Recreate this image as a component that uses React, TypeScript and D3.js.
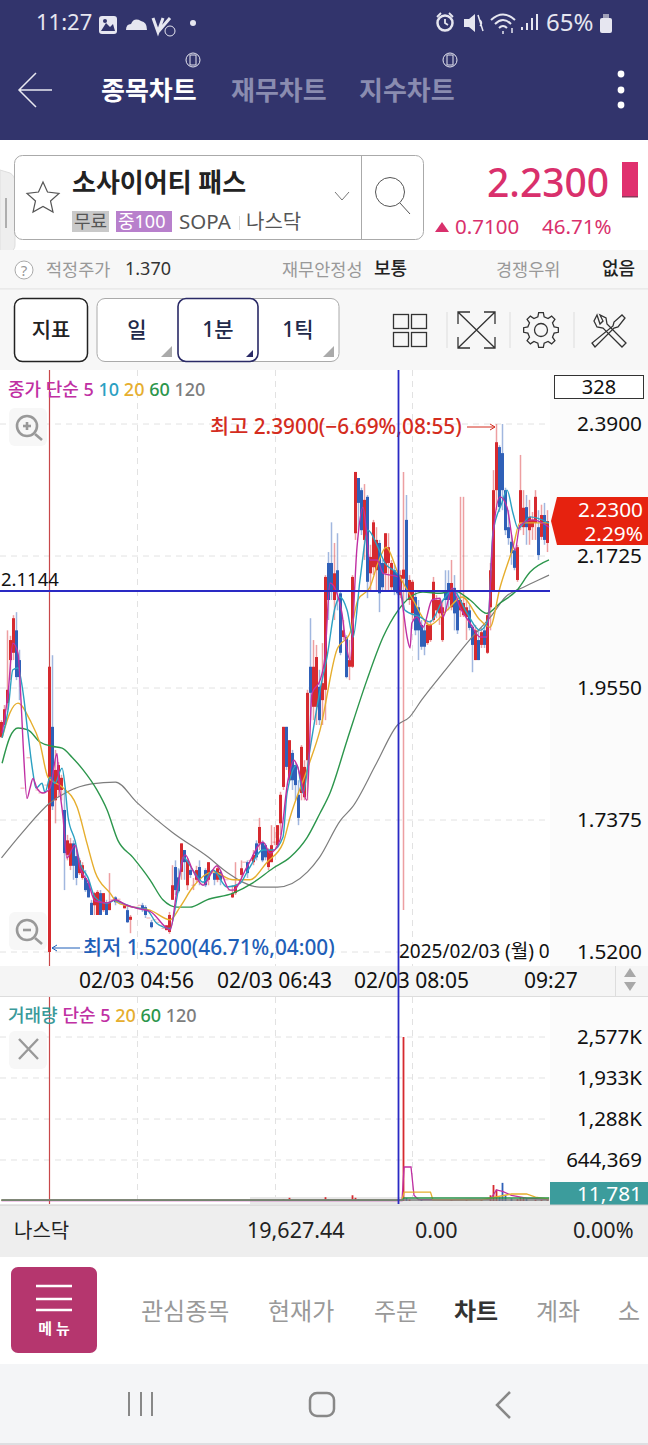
import React from "react";
import * as d3 from "d3";

const candleOpen: (number | null)[] = [
  1.874,1.894,1.930,2.001,2.013,2.050,2.001,1.790,null,1.840,
  null,null,1.787,1.782,1.782,1.795,1.520,1.891,1.770,1.787,
  1.787,1.754,1.680,1.662,1.699,1.678,1.650,1.642,1.642,1.634,
  1.601,1.597,1.581,1.617,1.589,1.601,1.589,1.606,1.610,1.607,
  1.599,1.592,1.589,1.573,1.594,1.594,1.597,1.597,1.594,1.576,
  1.569,1.573,1.569,1.564,1.559,1.556,1.553,1.606,1.660,1.643,
  1.652,1.688,1.630,1.655,1.630,1.639,1.660,1.632,1.655,1.639,
  1.650,1.650,1.639,1.652,1.642,1.639,1.622,1.610,1.617,1.639,
  1.647,1.668,1.668,1.671,1.668,1.699,1.699,1.701,1.696,1.660,
  1.668,1.701,1.696,1.732,1.792,1.891,1.803,1.848,1.828,1.779,
  1.782,1.775,1.836,1.990,1.924,1.924,1.957,1.935,1.952,2.161,
  2.161,2.100,2.149,2.111,2.039,2.039,1.990,1.990,2.210,2.301,
  2.281,2.199,2.270,2.144,2.154,2.149,2.194,2.161,2.144,2.161,
  2.121,2.149,2.144,2.108,2.135,2.232,2.100,2.078,2.105,2.088,
  2.059,2.050,2.029,2.034,2.067,2.083,2.078,2.034,2.116,2.128,
  2.088,2.120,2.100,2.083,2.075,2.072,2.083,2.056,2.001,2.034,
  2.026,2.050,2.013,2.088,2.116,2.281,2.352,2.342,2.281,2.220,
  2.196,2.182,2.133,2.227,2.220,2.253,2.215,2.220,2.227,2.220,
  2.204,2.240,2.194,
];
const candleClose: (number | null)[] = [
  1.899,1.920,1.952,2.034,2.070,1.973,1.973,1.790,null,1.840,
  null,null,1.787,1.782,1.782,1.795,1.990,1.760,1.820,1.828,
  1.807,1.683,1.704,1.699,1.662,1.642,1.671,1.663,1.622,1.610,
  1.581,1.617,1.619,1.581,1.617,1.581,1.602,1.606,1.602,1.607,
  1.599,1.597,1.569,1.578,1.594,1.594,1.597,1.589,1.581,1.576,
  1.561,1.573,1.569,1.564,1.559,1.564,1.581,1.630,1.622,1.620,
  1.699,1.668,1.671,1.647,1.630,1.655,1.639,1.632,1.630,1.668,
  1.650,1.639,1.658,1.639,1.642,1.639,1.622,1.617,1.630,1.639,
  1.658,1.668,1.650,1.671,1.680,1.676,1.726,1.671,1.676,1.688,
  1.696,1.701,1.729,1.779,1.891,1.825,1.869,1.803,1.795,1.741,
  1.858,1.825,1.947,1.947,1.990,2.006,1.902,1.963,2.138,2.100,
  2.116,2.144,2.116,2.013,2.050,1.973,2.001,2.138,2.311,2.260,
  2.215,2.265,2.130,2.171,2.228,2.199,2.111,2.121,2.210,2.187,
  2.161,2.116,2.111,2.141,2.150,2.116,2.133,2.130,2.050,2.050,
  2.023,2.023,2.059,2.059,2.130,2.100,2.100,2.088,2.100,2.100,
  2.128,2.078,2.050,2.100,2.095,2.088,2.054,2.026,2.050,2.001,
  2.047,2.026,2.075,2.149,2.281,2.360,2.253,2.281,2.215,2.202,
  2.177,2.153,2.187,2.281,2.252,2.220,2.237,2.232,2.270,2.174,
  2.240,2.199,2.230,
];
const candleHigh: (number | null)[] = [
  1.902,1.927,2.050,2.041,2.075,2.080,2.018,1.790,null,1.840,
  null,null,1.787,1.782,1.782,1.795,1.990,2.009,1.853,1.833,
  1.812,1.787,1.713,1.708,1.704,1.688,1.675,1.668,1.655,1.639,
  1.606,1.619,1.622,1.622,1.617,1.606,1.650,1.606,1.612,1.607,
  1.599,1.597,1.597,1.581,1.594,1.594,1.597,1.601,1.597,1.576,
  1.573,1.573,1.569,1.564,1.559,1.564,1.586,1.663,1.671,1.658,
  1.699,1.688,1.675,1.658,1.642,1.662,1.671,1.632,1.658,1.668,
  1.650,1.655,1.663,1.655,1.642,1.639,1.622,1.630,1.668,1.639,
  1.671,1.668,1.671,1.671,1.688,1.704,1.741,1.704,1.699,1.691,
  1.729,1.726,1.729,1.784,1.891,1.891,1.869,1.853,1.831,1.803,
  1.861,1.836,1.952,2.070,2.034,2.026,1.985,2.029,2.141,2.179,
  2.228,2.194,2.210,2.116,2.067,2.042,2.034,2.141,2.311,2.301,
  2.285,2.291,2.273,2.191,2.232,2.220,2.199,2.166,2.210,2.210,
  2.166,2.158,2.149,2.149,2.311,2.273,2.141,2.133,2.116,2.100,
  2.067,2.059,2.064,2.067,2.138,2.108,2.103,2.100,2.149,2.149,
  2.166,2.141,2.116,2.270,2.270,2.100,2.092,2.059,2.059,2.050,
  2.054,2.059,2.080,2.161,2.314,2.390,2.355,2.390,2.285,2.248,
  2.207,2.186,2.191,2.339,2.281,2.273,2.265,2.245,2.281,2.248,
  2.257,2.260,2.248,
];
const candleLow: (number | null)[] = [
  1.873,1.894,1.919,1.968,2.001,1.968,1.935,1.790,null,1.840,
  null,null,1.787,1.782,1.782,1.795,1.520,1.754,1.732,1.775,
  1.770,1.622,1.671,1.655,1.639,1.630,1.647,1.639,1.619,1.610,
  1.581,1.581,1.581,1.581,1.586,1.581,1.589,1.606,1.597,1.607,
  1.599,1.592,1.568,1.551,1.594,1.594,1.597,1.586,1.576,1.576,
  1.559,1.573,1.569,1.564,1.559,1.556,1.550,1.606,1.614,1.617,
  1.639,1.639,1.622,1.642,1.622,1.635,1.630,1.632,1.627,1.630,
  1.650,1.630,1.635,1.630,1.642,1.639,1.622,1.609,1.614,1.639,
  1.643,1.668,1.642,1.671,1.663,1.671,1.688,1.668,1.671,1.655,
  1.668,1.696,1.691,1.713,1.787,1.820,1.803,1.787,1.770,1.729,
  1.770,1.770,1.770,1.902,1.902,1.894,1.894,1.894,1.902,2.067,
  2.100,2.067,2.083,2.009,2.034,1.971,1.968,1.988,2.199,2.215,
  2.207,2.166,2.103,2.116,2.141,2.116,2.080,2.116,2.116,2.116,
  2.116,2.108,2.108,2.103,1.589,2.100,2.092,2.067,2.042,2.001,
  2.018,2.009,2.026,2.031,2.064,2.070,2.059,2.031,2.080,2.083,
  2.083,2.050,2.044,2.072,2.072,2.034,2.050,1.981,2.001,2.001,
  2.021,2.021,2.011,2.050,2.116,2.248,2.245,2.248,2.207,2.191,
  2.158,2.149,2.130,2.215,2.207,2.191,2.191,2.199,2.199,2.166,
  2.199,2.191,2.179,
];

const ma5Slots = [0.2,2.2,3.8,5.5,6.5,7.2,8.5,9.5,10.5,11.8,13.8,16.2,18.5,19,20.5,21.8,24.5,26.2,28.8,31.2,35.2,37.8,41.8,45.2,49.5,55.2,56.2,58.5,61.2,63.8,67.2,71.8,76.2,77.2,81.8,87.2,89.5,92.8,95.5,97.5,98.5,101.8,103.5,106.2,107.8,109.5,111.8,113.5,114.5,116.2,118.5,120.5,122.8,125.2,127.2,132.2,133.8,135.2,136.2,136.8,138.5,140.5,143.5,146.2,147.2,150.2,152.8,156.2,159.5,161.8,163.8,166.2,168.5,171.2,172.8,177.2,182.5];
const ma5Values = [1.881,1.947,2.029,2.012,1.935,1.863,1.773,1.790,1.806,1.790,1.782,1.790,1.847,1.809,1.743,1.675,1.696,1.658,1.636,1.604,1.601,1.606,1.597,1.592,1.587,1.559,1.556,1.622,1.680,1.654,1.630,1.662,1.622,1.622,1.660,1.701,1.683,1.704,1.803,1.836,1.828,1.770,1.946,1.968,2.006,2.128,2.111,2.078,2.039,2.001,2.187,2.253,2.166,2.166,2.144,2.138,2.088,2.039,2.021,2.062,2.072,2.055,2.100,2.103,2.072,2.120,2.088,2.062,2.039,2.039,2.204,2.270,2.253,2.182,2.223,2.232,2.220];
const ma10Slots = [0.2,2.2,3.8,5.5,7.2,8.8,10.5,11.5,13.5,14.5,16.2,17.8,20.2,21.2,22.2,24.5,26.2,28.8,31.2,35.2,37.8,39.5,43.8,48.5,51.8,56.2,58.5,60.5,63.8,67.2,70.5,75.2,79.5,82.2,87.2,90.5,93.8,95.2,98.5,100.5,102.8,106.2,108.5,111.2,112.8,115.2,117.2,119.5,122.2,125.2,127.8,132.2,134.5,139.5,142.8,147.2,150.5,155.2,159.5,162.2,163.8,166.8,168.5,170.5,172.2,176.2,182.5];
const ma10Values = [1.873,1.919,1.985,1.988,1.947,1.881,1.815,1.790,1.798,1.783,1.808,1.798,1.823,1.792,1.742,1.704,1.666,1.643,1.610,1.600,1.605,1.602,1.594,1.589,1.567,1.559,1.610,1.676,1.655,1.635,1.655,1.627,1.633,1.655,1.688,1.688,1.709,1.782,1.828,1.782,1.853,1.952,2.006,2.088,2.105,2.083,2.039,2.133,2.215,2.190,2.161,2.141,2.083,2.072,2.064,2.100,2.116,2.078,2.050,2.067,2.210,2.260,2.281,2.243,2.218,2.237,2.227];
const ma20Slots = [0.2,2.8,5.5,9.5,12.8,15.5,20.2,25.2,28.5,31.2,36.2,38.5,43.8,49.5,56.2,59.5,63.8,70.5,77.2,82.8,88.5,93.8,96.2,102.2,106.2,111.8,116.2,118.8,122.8,125.5,128.2,132.2,137.2,142.8,148.5,153.5,159.5,162.8,166.2,170.5,172.8,182.5];
const ma20Values = [1.873,1.914,1.930,1.902,1.864,1.808,1.792,1.759,1.699,1.652,1.617,1.602,1.594,1.589,1.573,1.594,1.627,1.652,1.639,1.639,1.668,1.699,1.742,1.825,1.886,2.018,2.046,2.100,2.121,2.161,2.187,2.144,2.100,2.059,2.083,2.105,2.067,2.055,2.121,2.187,2.227,2.227];
const ma60Slots = [0.2,2.8,5.5,8.8,12.8,16.8,20.2,23.5,27.2,31.8,35.2,38.8,43.8,49.5,53.8,58.5,62.8,68.5,77.2,83.8,90.5,96.2,101.8,106.2,109.5,115.2,121.8,127.2,132.2,140.5,146.2,150.5,156.2,161.8,166.2,171.8,176.2,182.5];
const ma60Values = [1.831,1.874,1.889,1.886,1.866,1.859,1.856,1.841,1.820,1.787,1.754,1.704,1.676,1.639,1.606,1.594,1.594,1.606,1.617,1.634,1.658,1.676,1.708,1.749,1.782,1.869,1.968,2.039,2.083,2.113,2.111,2.116,2.100,2.078,2.095,2.116,2.146,2.166];
const ma120Slots = [0,7,16,22,30,38,45,57,69,75,86,92,102,106,113,117,125,132,136,140,148,156,163,168,174,179,182.5];
const ma120Values = [1.675,1.717,1.765,1.784,1.797,1.800,1.767,1.717,1.676,1.652,1.627,1.627,1.652,1.676,1.737,1.759,1.831,1.894,1.907,1.935,1.985,2.034,2.072,2.105,2.121,2.133,2.141];

const volumeSlots = [3,5,16,27,36,45,60,70,85,94,96,100,108,109,117,118,119,128,134,135,136,140,150,155,160,163,164,165,166,167,168,170,172,173,174,175,178,180,182];
const volumeValues = [9000,12000,14000,8000,9000,7000,10000,8000,12000,30000,50000,15000,60000,30000,90000,50000,30000,14000,2577000,45000,25000,30000,20000,22000,25000,90000,251000,180000,60000,285000,90000,40000,30000,60000,50000,45000,20000,18000,11781];
const volMa5Slots = [0,133.5,134.2,136.5,137.5,139,150,163,165,167,170,175,182.5];
const volMa5Values = [8000,8000,534000,534000,90000,22000,20000,30000,173000,150000,90000,45000,25000];
const volMa20Slots = [0,133.5,134.2,143,143.8,160,170,175,178,182.5];
const volMa20Values = [12000,15000,141000,141000,20000,20000,110000,110000,60000,30000];
const volMa60Slots = [0,133.6,134.2,182.5];
const volMa60Values = [14000,16000,47000,47000];
const volMa120Slots = [0,182.5];
const volMa120Values = [16000,16000];

const priceTicks = [2.39, 2.1725, 1.955, 1.7375, 1.52];
const volumeTicks = [2577000, 1933000, 1288000, 644369];
const volumeTickLabels = ["2,577K", "1,933K", "1,288K", "644,369"];
const timeLabels = ["02/03 04:56", "02/03 06:43", "02/03 08:05", "09:27"];
const navItems = ["관심종목", "현재가", "주문", "차트", "계좌", "소"];

const F = '"Noto Sans","Noto Sans CJK KR",sans-serif';
const RED = "#d62a2f";
const BLUE = "#2f60b8";
const C5 = "#c02fa3", C10 = "#2ba0c2", C20 = "#e6ae2e", C60 = "#2c964c", C120 = "#7d7d7d";

const x = d3.scaleLinear().domain([0, 182]).range([1.5, 547.5]);
const y = d3.scaleLinear().domain([1.52, 2.39]).range([952, 424]);
const yVol = d3.scaleLinear().domain([0, 2577000]).range([1201, 1037]);

function path(slots: number[], values: number[], scale: d3.ScaleLinear<number, number>, smooth = false) {
  const pts = slots.map((s, i) => [x(s), scale(values[i])] as [number, number]);
  return d3.line().curve(smooth ? d3.curveMonotoneX : d3.curveLinear)(pts) || "";
}
const T = (p: any) => <text fontFamily={F} {...p} />;

function gearPath(cx: number, cy: number, r1: number, r2: number, teeth: number) {
  const pts: [number, number][] = [];
  for (let k = 0; k < teeth; k++) {
    const a = (k / teeth) * Math.PI * 2;
    const s = (Math.PI * 2) / teeth;
    [[-0.3, r1], [-0.17, r2], [0.17, r2], [0.3, r1]].forEach(([f, r]) => {
      pts.push([cx + r * Math.cos(a + f * s), cy + r * Math.sin(a + f * s)]);
    });
  }
  return d3.line().curve(d3.curveLinearClosed)(pts) || "";
}

function Magnifier({ cx, cy, plus }: { cx: number; cy: number; plus: boolean }) {
  return (
    <g stroke="#999" fill="none" strokeWidth={2.6}>
      <rect x={cx - 19} y={cy - 19} width={38} height={38} rx={6} fill="#f7f7f7" stroke="none" />
      <circle cx={cx - 1} cy={cy - 1} r={10} />
      <line x1={cx + 7} y1={cy + 7} x2={cx + 14} y2={cy + 13} />
      <line x1={cx - 5} y1={cy - 1} x2={cx + 3} y2={cy - 1} />
      {plus && <line x1={cx - 1} y1={cy - 5} x2={cx - 1} y2={cy + 3} />}
    </g>
  );
}

export default function App() {
  const slots = candleOpen.map((_, i) => i).filter((i) => candleOpen[i] !== null);
  return (
    <svg width={648} height={1445} viewBox="0 0 648 1445" style={{ position: "absolute", left: 0, top: 0, display: "block" }}>
      <rect width={648} height={1445} fill="#fff" />
      {/* header */}
      <rect width={648} height={140} fill="#32346c" />
      <T x={36} y={30} fontSize={22} fill="#e6e6f0">11:27</T>
      <rect x={99} y={16} width={18} height={18} rx={3} fill="#e6e6f0" />
      <path d="M101 31 L106 23 L110 27 L113 24 L115 31 Z" fill="#32346c" />
      <circle cx={105} cy={21} r={2} fill="#32346c" />
      <path d="M126 30 Q126 24 131 24 Q134 17 141 21 Q147 22 147 30 Z" fill="#e6e6f0" />
      <path d="M153 18 L158 32 L163 18 M158 32 L170 18" stroke="#e6e6f0" strokeWidth={3} fill="none" />
      <circle cx={170} cy={31} r={5} fill="none" stroke="#e6e6f0" strokeWidth={1} />
      <circle cx={193} cy={23} r={3} fill="#e6e6f0" />
      <circle cx={445} cy={23} r={7.5} fill="none" stroke="#e6e6f0" strokeWidth={2.5} />
      <path d="M445 19 V23 L448 25 M437 17 L441 13 M453 17 L449 13" stroke="#e6e6f0" strokeWidth={1.8} fill="none" />
      <path d="M464 19 H469 L475 14 V32 L469 27 H464 Z" fill="#e6e6f0" />
      <path d="M478 15 L483 31 M480 20 Q483 23 480 26" stroke="#e6e6f0" strokeWidth={1.5} fill="none" />
      <path d="M491 20 Q503 9 515 20 M495 24 Q503 16 511 24 M499 28 Q503 24 507 28" stroke="#e6e6f0" strokeWidth={2} fill="none" />
      <path d="M503 31 v3 M512 28 v5" stroke="#e6e6f0" strokeWidth={1.5} />
      <path d="M522 30 v-3 M527 30 v-7 M532 30 v-12 M537 30 v-16" stroke="#e6e6f0" strokeWidth={2} />
      <T x={546} y={31} fontSize={24} fill="#e6e6f0">65%</T>
      <rect x={600} y={18} width={12} height={15} rx={2} fill="#e6e6f0" />
      <rect x={603} y={14} width={6} height={4} fill="#a0a0b8" />
      <path d="M52 90 H19 M36 73 L19 90 L36 107" stroke="#e8e8f0" strokeWidth={1.5} fill="none" />
      <T x={101} y={100} fontSize={26} fontWeight={700} fill="#fff">종목차트</T>
      <T x={231} y={100} fontSize={26} fontWeight={700} fill="#8a8cb0">재무차트</T>
      <T x={359} y={100} fontSize={26} fontWeight={700} fill="#8a8cb0">지수차트</T>
      {[193, 450].map((c) => (
        <g key={c} stroke="#e6e6f0" fill="none" strokeWidth={1}>
          <circle cx={c} cy={60} r={7} />
          <rect x={c - 3} y={55} width={6} height={10} fill="#32346c" />
        </g>
      ))}
      {[74, 90, 105].map((c) => <circle key={c} cx={621} cy={c} r={3.4} fill="#fff" />)}

      {/* stock card */}
      <path d="M0 170 L10 173 Q15 176 15 182 V245 Q15 250 10 252 L0 256 Z" fill="#eee" stroke="#ddd" />
      <line x1={6} y1={198} x2={6} y2={228} stroke="#999" strokeWidth={1.5} />
      <rect x={14.5} y={155.5} width={409} height={84} rx={8} fill="#fff" stroke="#aaa" />
      <line x1={361.5} y1={156} x2={361.5} y2={239} stroke="#aaa" />
      <path d="M43 182 L47.5 192 L59 193.500 L50.500 201 L53 212 L43 206.500 L33 212 L35.500 201 L27 193.500 L38.500 192 Z" fill="#fff" stroke="#555" strokeWidth={1.2} />
      <T x={72} y={192} fontSize={26} fontWeight={700} fill="#222">소사이어티 패스</T>
      <rect x={72} y={211} width={37} height={21} fill="#c9c9c9" />
      <T x={74} y={228} fontSize={18} fill="#555">무료</T>
      <rect x={116} y={211} width={56} height={21} fill="#b880cc" />
      <T x={118} y={228} fontSize={18} fill="#fff">중100</T>
      <T x={179} y={229} fontSize={20.500} fill="#555">SOPA</T>
      <line x1={239.500} y1={216} x2={239.500} y2={230} stroke="#ddd" />
      <T x={246} y={229} fontSize={20} fill="#555">나스닥</T>
      <path d="M335 192 L342 200 L349 192" stroke="#777" fill="none" />
      <circle cx={390} cy={192} r={14.5} fill="none" stroke="#555" />
      <line x1={400} y1={203} x2={410} y2={214} stroke="#555" />
      <T x={487} y={197} fontSize={39} fontWeight={500} fill="#d9306c">2.2300</T>
      <rect x={622} y={162} width={16} height={34} fill="#e0306e" />
      <rect x={622} y={196} width={16} height={1.5} fill="#8a3a5a" />
      <path d="M435 232 L442 222 L449 232 Z" fill="#d9306c" />
      <T x={455} y={234} fontSize={20.500} fill="#d9306c">0.7100</T>
      <T x={542} y={234} fontSize={20.500} fill="#d9306c">46.71%</T>

      {/* info band */}
      <rect y={250} width={648} height={39} fill="#f7f7f7" />
      <line x1={0} y1={289} x2={648} y2={289} stroke="#ddd" />
      <circle cx={24} cy={270} r={9} fill="#fff" stroke="#aaa" />
      <T x={24} y={276} fontSize={15} fill="#999" textAnchor="middle">?</T>
      <T x={46} y={276} fontSize={17.500} fill="#999">적정주가</T>
      <T x={125} y={275} fontSize={18} fill="#333">1.370</T>
      <T x={282} y={276} fontSize={17.500} fill="#999">재무안정성</T>
      <T x={374} y={275} fontSize={18} fontWeight={500} fill="#222">보통</T>
      <T x={496} y={276} fontSize={17.500} fill="#999">경쟁우위</T>
      <T x={602} y={275} fontSize={18} fontWeight={500} fill="#222">없음</T>

      {/* toolbar */}
      <rect y={290} width={648} height={80} fill="#f7f7f7" />
      <rect x={14.5} y={298.5} width={73} height={63} rx={8} fill="#fff" stroke="#222" strokeWidth={1.5} />
      <T x={51} y={337} fontSize={21} fontWeight={500} textAnchor="middle" fill="#222">지표</T>
      <rect x={97} y={298.5} width={242} height={63} rx={8} fill="#fff" stroke="#aaa" />
      <rect x={178} y={298.5} width={80} height={63} rx={8} fill="#fff" stroke="#2a2a66" strokeWidth={1.6} />
      <T x={137} y={337} fontSize={21} fontWeight={500} textAnchor="middle" fill="#222a4a">일</T>
      <T x={218} y={337} fontSize={21} fontWeight={500} textAnchor="middle" fill="#222a4a">1분</T>
      <T x={298} y={337} fontSize={21} fontWeight={500} textAnchor="middle" fill="#222a4a">1틱</T>
      <path d="M172 346 V357 H161 Z" fill="#aaa" />
      <path d="M253 350 V357 H246 Z" fill="#2a2a66" />
      <path d="M334 346 V357 H323 Z" fill="#aaa" />
      <g fill="none" stroke="#333" strokeWidth={1.3}>
        <rect x={393.500} y={314.500} width={15} height={14} />
        <rect x={411.500} y={314.500} width={15} height={14} />
        <rect x={393.500} y={332.500} width={15} height={14} />
        <rect x={411.500} y={332.500} width={15} height={14} />
        <path d="M458 324 V312 H470 M484 312 H495 V324 M458 337 V348 H470 M484 348 H495 V337 M458 312 L495 348 M495 312 L458 348" />
        <circle cx={541} cy={330} r={6.5} />
        <path d={gearPath(541, 330, 13.5, 17.5, 8)} />
        <path d="M597 315 l-3 6 l3 6 l6 1 l19 19 l4 -4 l-19 -19 l-1 -6 l-6 -3 l3 6 l-3 3 Z" />
        <path d="M592 343 l3 4 l19 -19 l4 -1 l7 -9 l-3 -3 l-8 7 l-1 4 Z" />
      </g>
      {[447, 510, 574].map((c) => <line key={c} x1={c} y1={312} x2={c} y2={348} stroke="#ddd" />)}

      {/* chart */}
      <rect x={550} y={370} width={98} height={596} fill="#fbfbfb" />
      <rect x={550} y={997} width={98} height={208} fill="#fbfbfb" />
      <g stroke="#e2e2e2" strokeDasharray="6 5">
        {priceTicks.map((p) => <line key={p} x1={0} x2={550} y1={y(p)} y2={y(p)} />)}
        {volumeTicks.map((p) => <line key={p} x1={0} x2={550} y1={yVol(p)} y2={yVol(p)} />)}
        {[137.5, 275.5, 412.5].map((c) => (
          <g key={c}>
            <line x1={c} x2={c} y1={370} y2={966} />
            <line x1={c} x2={c} y1={997} y2={1204} />
          </g>
        ))}
      </g>
      <line x1={49.5} x2={49.5} y1={370} y2={1204} stroke="#c8484a" strokeWidth={1.2} />

      {slots.map((i) => {
        const o = candleOpen[i] as number, c = candleClose[i] as number;
        const color = c >= o ? RED : BLUE;
        const top = y(Math.max(o, c));
        const h = Math.max(1, Math.abs(y(o) - y(c)));
        const flat = o === c;
        return (
          <g key={i}>
            <line x1={x(i)} x2={x(i)} y1={y(candleHigh[i] as number)} y2={y(candleLow[i] as number)} stroke={color} strokeOpacity={0.45} strokeWidth={1.5} />
            {flat ? (
              <line x1={x(i) - 2} x2={x(i) + 2} y1={top} y2={top} stroke={color} strokeOpacity={0.4} />
            ) : (
              <rect x={x(i) - 1.5} y={top} width={3} height={h} fill={color} />
            )}
          </g>
        );
      })}
      <g fill="none" strokeWidth={1.4} strokeLinejoin="round">
        <path d={path(ma120Slots, ma120Values, y, true)} stroke={C120} strokeWidth={1.2} />
        <path d={path(ma60Slots, ma60Values, y, true)} stroke={C60} />
        <path d={path(ma20Slots, ma20Values, y, true)} stroke={C20} />
        <path d={path(ma10Slots, ma10Values, y, true)} stroke={C10} />
        <path d={path(ma5Slots, ma5Values, y, true)} stroke={C5} />
      </g>

      <T x={8} y={396} fontSize={18} fontWeight={500} fill={C5}>종가 단순 5 <tspan fill={C10}>10</tspan> <tspan fill={C20}>20</tspan> <tspan fill={C60}>60</tspan> <tspan fill={C120}>120</tspan></T>
      <Magnifier cx={28} cy={427} plus />
      <Magnifier cx={28} cy={931} plus={false} />
      <T x={210} y={434} fontSize={20.800} fontWeight={500} fill="#d42c1e">최고 2.3900(−6.69%,08:55)</T>
      <path d="M467 427 H495 M490 424 L495 427 L490 430" stroke="#d42c1e" fill="none" />
      <T x={83} y={955} fontSize={20.800} fontWeight={500} fill="#1f5fb8">최저 1.5200(46.71%,04:00)</T>
      <path d="M80 948 H52 M57 945 L52 948 L57 951" stroke="#1f5fb8" fill="none" />
      <T x={1} y={586} fontSize={18.500} fill="#111">2.1144</T>
      <T x={399} y={958} fontSize={19} fill="#111">2025/02/03 (월) 0</T>

      {priceTicks.map((p) => (
        <T key={p} x={642} y={y(p) + 7} fontSize={20.800} textAnchor="end" fill="#111">{p.toFixed(4)}</T>
      ))}
      <rect x={554.5} y={375.5} width={89} height={23} fill="#fff" stroke="#333" />
      <T x={599} y={394} fontSize={20} textAnchor="middle" fill="#111">328</T>
      <path d="M551 521 L557 497 H648 V545 H557 Z" fill="#e6220f" />
      <T x={643} y={517} fontSize={20.800} textAnchor="end" fill="#fff">2.2300</T>
      <T x={643} y={541} fontSize={20.800} textAnchor="end" fill="#fff">2.29%</T>

      {/* time axis */}
      <rect y={966} width={648} height={30} fill="#f5f5f5" />
      <line x1={0} x2={648} y1={996.5} y2={996.5} stroke="#ddd" />
      {timeLabels.map((t, i) => (
        <T key={t} x={[79, 217, 354, 524][i]} y={988} fontSize={21} fill="#111">{t}</T>
      ))}
      <line x1={615.5} x2={615.5} y1={966} y2={996} stroke="#ddd" />
      <path d="M624 977 L630 968 L636 977 Z M624 982 L630 991 L636 982 Z" fill="#a8a8a8" />

      {/* volume */}
      <rect x={250} y={1197} width={300} height={7} fill="#e8e8e8" />
      <T x={8} y={1022} fontSize={18} fontWeight={500} fill="#3a9a9a">거래량 <tspan fill={C5}>단순 5</tspan> <tspan fill={C20}>20</tspan> <tspan fill={C60}>60</tspan> <tspan fill={C120}>120</tspan></T>
      <rect x={9} y={1031} width={38} height={38} rx={6} fill="#f7f7f7" />
      <path d="M19 1039 L38 1059 M38 1039 L19 1059" stroke="#999" strokeWidth={2.4} />
      {volumeSlots.map((s, i) => (
        <rect key={s} x={x(s) - 0.9} y={yVol(volumeValues[i])} width={1.8} height={yVol(0) - yVol(volumeValues[i])}
          fill={(candleClose[s] as number) >= (candleOpen[s] as number) ? RED : BLUE} />
      ))}
      <g fill="none" strokeWidth={1.3}>
        <path d={path(volMa5Slots, volMa5Values, yVol)} stroke={C5} />
        <path d={path(volMa20Slots, volMa20Values, yVol)} stroke={C20} />
        <path d={path(volMa60Slots, volMa60Values, yVol)} stroke={C60} />
        <path d={path(volMa120Slots, volMa120Values, yVol)} stroke={C120} />
      </g>
      {volumeTicks.map((p, i) => (
        <T key={p} x={642} y={yVol(p) + 7} fontSize={20.500} textAnchor="end" fill="#111">{volumeTickLabels[i]}</T>
      ))}
      <rect x={550} y={1182} width={98} height={23} fill="#3c9c9c" />
      <T x={642} y={1201} fontSize={20.800} textAnchor="end" fill="#fff">11,781</T>

      {/* crosshair */}
      <line x1={0} x2={550} y1={591} y2={591} stroke="#2a2ac4" strokeWidth={1.8} />
      <line x1={398.5} x2={398.5} y1={370} y2={1204} stroke="#2a2ac4" strokeWidth={1.8} />

      {/* footer */}
      <rect y={1205} width={648} height={52} fill="#eeeeee" />
      <line x1={0} x2={648} y1={1205} y2={1205} stroke="#ccc" />
      <T x={14} y={1238} fontSize={20} fill="#222">나스닥</T>
      <T x={247} y={1238} fontSize={21.500} fill="#222">19,627.44</T>
      <T x={415} y={1238} fontSize={21.500} fill="#222">0.00</T>
      <T x={573} y={1238} fontSize={21.500} fill="#222">0.00%</T>
      <rect x={11} y={1267} width={86} height={86} rx={7} fill="#b5366e" />
      {[1286, 1299, 1310].map((c) => <line key={c} x1={36} x2={72} y1={c} y2={c} stroke="#fff" strokeWidth={2.4} />)}
      <T x={54} y={1334} fontSize={15} fontWeight={700} fill="#fff" textAnchor="middle">메 뉴</T>
      {navItems.map((t, i) => (
        <T key={t} x={[141, 268, 374, 454, 536, 618][i]} y={1320} fontSize={24} fontWeight={t === "차트" ? 700 : 400} fill={t === "차트" ? "#333" : "#999"}>{t}</T>
      ))}
      <rect y={1364} width={648} height={81} fill="#f4f5f7" />
      <line x1={0} x2={648} y1={1444} y2={1444} stroke="#c8c8cc" />
      <path d="M129 1392 V1416 M141 1392 V1416 M152 1392 V1416" stroke="#888" strokeWidth={2} />
      <rect x={310} y={1393} width={24} height={23} rx={7} fill="none" stroke="#888" strokeWidth={2.5} />
      <path d="M510 1392 L497 1405 L510 1418" fill="none" stroke="#888" strokeWidth={2.5} />
    </svg>
  );
}
